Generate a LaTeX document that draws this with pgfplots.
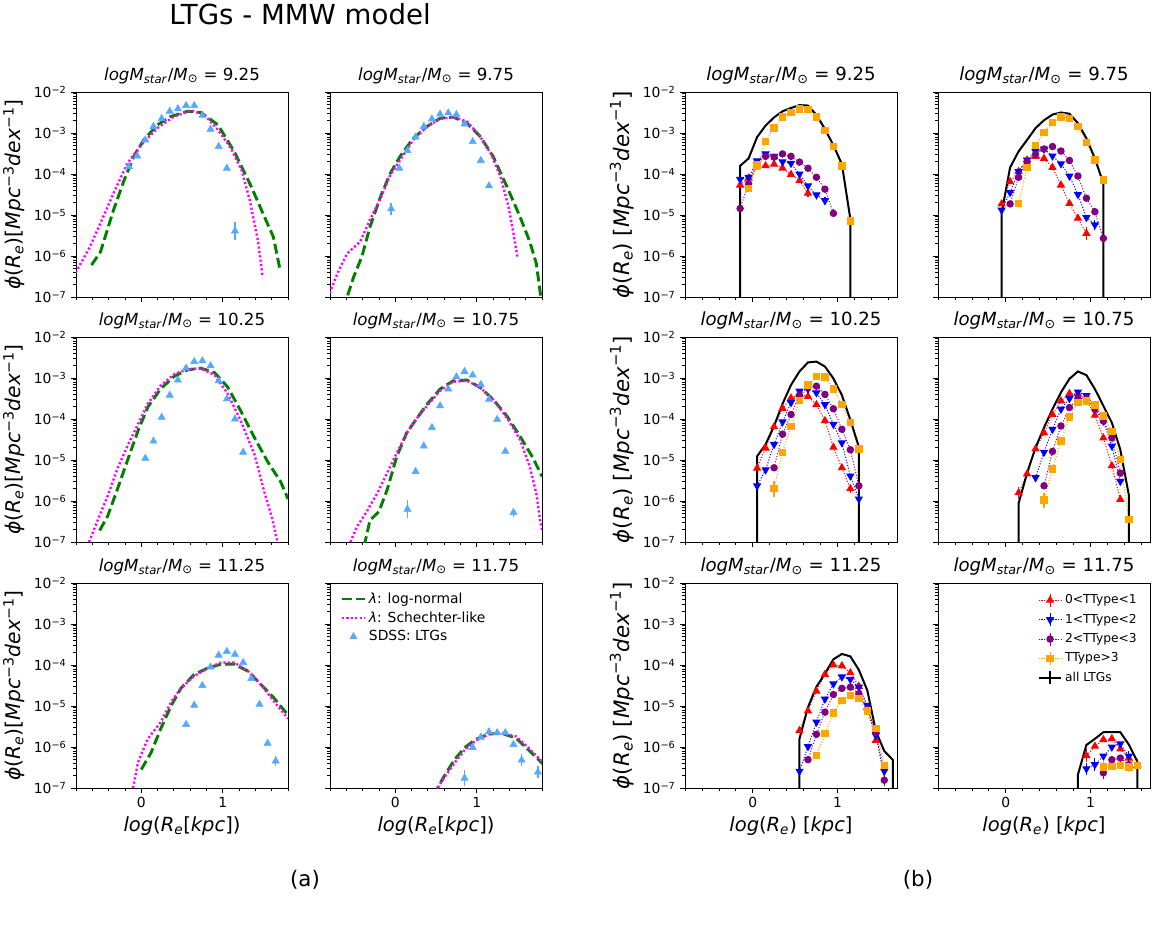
\documentclass[border=0pt]{standalone}
\usepackage{fontspec}
\setmainfont{DejaVu Sans}
\usepackage{pgfplots}
\pgfplotsset{compat=1.18}

\definecolor{mgreen}{HTML}{008000}
\definecolor{mmag}{HTML}{FF00FF}
\definecolor{msdss}{HTML}{55AAFF}
\definecolor{mpurple}{HTML}{800080}
\definecolor{morange}{HTML}{FFA500}

% y values are log10(phi); ticks labelled as powers of ten
\pgfplotsset{
  base/.style={
    scale only axis, width=159pt, height=153.75pt, anchor=south west,
    ymin=-7, ymax=-2,
    ytick={-7,-6,-5,-4,-3,-2},
    yticklabels={10\textsuperscript{−7},10\textsuperscript{−6},10\textsuperscript{−5},10\textsuperscript{−4},10\textsuperscript{−3},10\textsuperscript{−2}},
    minor ytick={-6.699,-6.523,-6.398,-6.301,-6.222,-6.155,-6.097,-6.046,
      -5.699,-5.523,-5.398,-5.301,-5.222,-5.155,-5.097,-5.046,
      -4.699,-4.523,-4.398,-4.301,-4.222,-4.155,-4.097,-4.046,
      -3.699,-3.523,-3.398,-3.301,-3.222,-3.155,-3.097,-3.046,
      -2.699,-2.523,-2.398,-2.301,-2.222,-2.155,-2.097,-2.046},
    xtick={0,1}, xticklabels={0,1},
    tick align=outside, tick pos=left,
    major tick length=3.6pt, minor tick length=2.1pt,
    every tick/.append style={black, line width=0.6pt},
    axis line style={line width=0.6pt},
    tick label style={font=\fontsize{10.4}{12}\selectfont},
  },
  pa/.style={base, xmin=-0.8, xmax=1.8,
    minor xtick={-0.8,-0.6,-0.4,-0.2,0.2,0.4,0.6,0.8,1.2,1.4,1.6,1.8},
    title style={font=\fontsize{12.5}{14}\selectfont, yshift=-3.5pt},
    ylabel style={font=\fontsize{15.2}{17}\selectfont},
    xlabel style={font=\fontsize{14.6}{16}\selectfont}},
  pb/.style={base, xmin=-0.8, xmax=1.7,
    minor xtick={-0.8,-0.6,-0.4,-0.2,0.2,0.4,0.6,0.8,1.2,1.4,1.6},
    title style={font=\fontsize{13.6}{15}\selectfont, yshift=-3.5pt},
    ylabel style={font=\fontsize{16}{18}\selectfont},
    xlabel style={font=\fontsize{14.6}{16}\selectfont}},
  noy/.style={yticklabels={}},
  nox/.style={xticklabels={}},
  lgn/.style={mgreen, line width=2.2pt, dash pattern=on 7.5pt off 3.2pt},
  sch/.style={mmag, line width=1.8pt, dash pattern=on 1.6pt off 1.7pt},
  sdss/.style={msdss, only marks, mark=triangle*, mark size=3.1pt,
    error bars/y dir=both, error bars/y explicit, error bars/error mark=none,
    error bars/error bar style={line width=1pt}},
  tt/.style={line width=0.75pt, dash pattern=on 0.8pt off 1.3pt, mark options={solid},
    error bars/y dir=both, error bars/y explicit, error bars/error mark=none,
    error bars/error bar style={solid, line width=0.9pt}},
  t1/.style={tt, red, mark=triangle*, mark size=2.9pt},
  t2/.style={tt, blue, mark=triangle*, mark size=2.9pt, mark options={solid, rotate=180}},
  t3/.style={tt, mpurple, mark=*, mark size=2.4pt},
  t4/.style={tt, morange, mark=square*, mark size=2.4pt},
  tall/.style={black, line width=1.5pt},
  bleg/.style={legend image code/.code={
    \draw[##1, mark=none, solid] (0.3cm,-0.17cm) -- (0.3cm,0.17cm);
    \draw[mark repeat=2, mark phase=2, ##1] plot coordinates {(0cm,0cm) (0.3cm,0cm) (0.6cm,0cm)};}},
}

\newcommand\ttl[1]{\textit{logM}\textsubscript{\textit{star}}/\textit{M}\textsubscript{⊙} = #1}
\newcommand\ylaba{\textit{ϕ}(\textit{R}\textsubscript{\textit{e}})[\textit{Mpc}\textsuperscript{−3}\textit{dex}\textsuperscript{−1}]}
\newcommand\ylabb{\textit{ϕ}(\textit{R}\textsubscript{\textit{e}}) [\textit{Mpc}\textsuperscript{−3}\textit{dex}\textsuperscript{−1}]}
\newcommand\xlaba{\textit{log}(\textit{R}\textsubscript{\textit{e}}[\textit{kpc}])}
\newcommand\xlabb{\textit{log}(\textit{R}\textsubscript{\textit{e}}) [\textit{kpc}]}

\begin{document}
\begin{tikzpicture}
\useasboundingbox (0,0) rectangle (866.25pt,-697.5pt);

\node[font=\fontsize{20.7}{24}\selectfont] at (225pt,-11pt) {LTGs - MMW model};
\node[font=\fontsize{16}{19}\selectfont] at (228.75pt,-660pt) {(a)};
\node[font=\fontsize{16}{19}\selectfont] at (688.5pt,-660pt) {(b)};

% ---------------- (a) row 1 ----------------
\begin{axis}[pa, nox, at={(57pt,-222.75pt)}, title={\ttl{9.25}}, ylabel={\ylaba}]
\addplot[lgn] coordinates {(-0.61,-6.22) (-0.50,-5.90) (-0.34,-4.88) (-0.21,-4.15) (-0.09,-3.57) (0.03,-3.17) (0.20,-2.80) (0.36,-2.60) (0.57,-2.47) (0.73,-2.50) (0.94,-2.80) (1.14,-3.45) (1.35,-4.31) (1.51,-5.04) (1.62,-5.53) (1.70,-6.31)};
\addplot[sch] coordinates {(-0.85,-6.60) (-0.80,-6.39) (-0.63,-5.78) (-0.50,-5.20) (-0.34,-4.47) (-0.17,-3.74) (0.00,-3.29) (0.20,-2.88) (0.40,-2.60) (0.61,-2.45) (0.77,-2.55) (0.94,-2.92) (1.10,-3.37) (1.23,-3.90) (1.33,-4.63) (1.43,-5.61) (1.49,-6.51)};
\addplot[sdss] coordinates {(-0.15,-3.82) (-0.05,-3.56) (0.05,-3.17) (0.15,-2.84) (0.25,-2.65) (0.35,-2.47) (0.45,-2.41) (0.55,-2.33) (0.65,-2.33) (0.75,-2.57) (0.85,-2.91) (0.95,-3.33) (1.05,-3.86) (1.15,-5.39) +- (0,0.22)};
\end{axis}

\begin{axis}[pa, nox, noy, at={(247.5pt,-222.75pt)}, title={\ttl{9.75}}]
\addplot[lgn] coordinates {(-0.62,-7.30) (-0.59,-7.00) (-0.51,-6.51) (-0.41,-6.02) (-0.31,-5.29) (-0.18,-4.55) (-0.06,-3.98) (0.06,-3.57) (0.22,-3.13) (0.39,-2.84) (0.55,-2.64) (0.71,-2.61) (0.88,-2.76) (1.04,-3.08) (1.20,-3.57) (1.37,-4.31) (1.53,-5.04) (1.65,-5.65) (1.73,-6.18) (1.78,-6.92) (1.80,-7.30)};
\addplot[sch] coordinates {(-0.85,-7.10) (-0.80,-6.88) (-0.71,-6.43) (-0.59,-5.94) (-0.43,-5.65) (-0.31,-5.12) (-0.18,-4.59) (-0.06,-4.02) (0.06,-3.66) (0.22,-3.17) (0.39,-2.84) (0.55,-2.66) (0.71,-2.61) (0.88,-2.72) (1.04,-3.08) (1.18,-3.53) (1.29,-4.06) (1.39,-4.80) (1.45,-5.45) (1.50,-6.04)};
\addplot[sdss] coordinates {(-0.05,-4.85) +- (0,0.15) (0.05,-3.86) (0.15,-3.43) (0.25,-3.10) (0.35,-2.84) (0.45,-2.66) (0.55,-2.54) (0.65,-2.51) (0.75,-2.55) (0.85,-2.78) (0.95,-3.21) (1.05,-3.67) (1.15,-4.29)};
\end{axis}

% ---------------- (a) row 2 ----------------
\begin{axis}[pa, nox, at={(57pt,-406.5pt)}, title={\ttl{10.25}}, ylabel={\ylaba}]
\addplot[lgn] coordinates {(-0.51,-6.72) (-0.41,-6.36) (-0.29,-5.70) (-0.16,-4.96) (-0.04,-4.29) (0.08,-3.71) (0.24,-3.26) (0.41,-2.95) (0.57,-2.80) (0.73,-2.76) (0.90,-2.87) (1.06,-3.22) (1.22,-3.80) (1.39,-4.46) (1.55,-5.04) (1.71,-5.53) (1.80,-5.95)};
\addplot[sch] coordinates {(-0.66,-7.10) (-0.64,-7.00) (-0.53,-6.45) (-0.41,-5.87) (-0.29,-5.20) (-0.16,-4.62) (-0.04,-4.13) (0.08,-3.63) (0.24,-3.18) (0.41,-2.90) (0.57,-2.79) (0.73,-2.76) (0.90,-2.93) (1.06,-3.38) (1.22,-4.04) (1.39,-4.87) (1.51,-5.78) (1.61,-6.45) (1.67,-7.00) (1.68,-7.10)};
\addplot[sdss] coordinates {(0.05,-4.96) (0.15,-4.54) (0.25,-3.96) (0.35,-3.42) (0.45,-3.05) (0.55,-2.76) (0.65,-2.60) (0.75,-2.58) (0.85,-2.70) (0.95,-3.07) (1.05,-3.51) (1.15,-4.00) (1.25,-4.81)};
\end{axis}

\begin{axis}[pa, nox, noy, at={(247.5pt,-406.5pt)}, title={\ttl{10.75}}]
\addplot[lgn] coordinates {(-0.38,-7.10) (-0.37,-7.00) (-0.31,-6.47) (-0.20,-6.26) (-0.10,-5.73) (0.02,-4.91) (0.14,-4.34) (0.27,-3.97) (0.39,-3.64) (0.55,-3.27) (0.71,-3.07) (0.88,-3.05) (1.04,-3.23) (1.20,-3.52) (1.37,-3.93) (1.53,-4.42) (1.69,-4.95) (1.80,-5.40)};
\addplot[sch] coordinates {(-0.57,-7.10) (-0.55,-7.00) (-0.47,-6.63) (-0.35,-6.26) (-0.22,-5.81) (-0.10,-5.32) (0.02,-4.83) (0.14,-4.34) (0.27,-3.97) (0.39,-3.68) (0.55,-3.31) (0.71,-3.09) (0.88,-3.07) (1.04,-3.23) (1.20,-3.52) (1.37,-3.97) (1.53,-4.50) (1.65,-5.16) (1.73,-5.81) (1.78,-6.51) (1.80,-6.70)};
\addplot[sdss] coordinates {(0.15,-6.20) +- (0,0.22) (0.25,-5.28) (0.35,-4.66) (0.45,-4.21) (0.55,-3.68) (0.65,-3.27) (0.75,-2.97) (0.85,-2.84) (0.95,-2.93) (1.05,-3.16) (1.15,-3.52) (1.25,-4.01) (1.35,-4.79) (1.45,-6.28) +- (0,0.12)};
\end{axis}

% ---------------- (a) row 3 ----------------
\begin{axis}[pa, at={(57pt,-591pt)}, title={\ttl{11.25}}, ylabel={\ylaba}, xlabel={\xlaba}]
\addplot[lgn] coordinates {(0.00,-6.55) (0.12,-6.14) (0.24,-5.55) (0.37,-4.98) (0.49,-4.56) (0.65,-4.23) (0.82,-4.07) (0.98,-3.98) (1.14,-3.98) (1.31,-4.15) (1.47,-4.48) (1.63,-4.81) (1.80,-5.22)};
\addplot[sch] coordinates {(-0.12,-7.10) (-0.10,-7.00) (-0.04,-6.38) (0.08,-5.80) (0.24,-5.39) (0.37,-4.89) (0.49,-4.56) (0.65,-4.27) (0.82,-4.07) (0.98,-3.94) (1.14,-3.94) (1.31,-4.15) (1.47,-4.48) (1.63,-4.89) (1.80,-5.31)};
\addplot[sdss] coordinates {(0.55,-5.45) (0.65,-4.98) (0.75,-4.50) (0.85,-4.05) (0.95,-3.76) (1.05,-3.67) (1.15,-3.74) (1.25,-3.94) (1.35,-4.33) (1.45,-4.96) (1.55,-5.91) (1.65,-6.34) +- (0,0.12)};
\end{axis}

\begin{axis}[pa, noy, at={(247.5pt,-591pt)}, title={\ttl{11.75}}, xlabel={\xlaba},
  legend style={draw=none, fill=none, at={(0.03,0.98)}, anchor=north west,
    font=\fontsize{10.4}{12}\selectfont, row sep=0.8pt}, legend cell align=left]
\addlegendimage{lgn}
\addlegendentry{\textit{λ}: log-normal}
\addlegendimage{sch}
\addlegendentry{\textit{λ}: Schechter-like}
\addlegendimage{msdss, only marks, mark=triangle*, mark size=3.1pt}
\addlegendentry{SDSS: LTGs}
\addplot[lgn, forget plot] coordinates {(0.50,-7.20) (0.52,-7.00) (0.60,-6.71) (0.73,-6.30) (0.85,-6.02) (0.98,-5.82) (1.15,-5.68) (1.31,-5.67) (1.48,-5.78) (1.65,-6.10) (1.82,-6.43)};
\addplot[sch, forget plot] coordinates {(0.50,-7.20) (0.52,-7.00) (0.60,-6.75) (0.73,-6.38) (0.85,-6.08) (0.98,-5.85) (1.15,-5.69) (1.31,-5.67) (1.48,-5.74) (1.65,-6.05) (1.82,-6.39)};
\addplot[sdss, forget plot] coordinates {(0.85,-6.76) +- (0,0.2) (0.95,-6.01) (1.05,-5.76) (1.15,-5.63) (1.25,-5.65) (1.35,-5.65) (1.45,-5.94) (1.55,-6.32) +- (0,0.15) (1.75,-6.61) +- (0,0.15)};
\end{axis}

% ---------------- (b) row 1 ----------------
\begin{axis}[pb, nox, at={(513.75pt,-222.75pt)}, title={\ttl{9.25}}, ylabel={\ylabb}]
\addplot[t1] coordinates {(-0.15,-4.27) (-0.05,-4.10) (0.05,-3.83) (0.15,-3.80) (0.25,-3.76) (0.35,-3.86) (0.45,-4.01) (0.55,-4.16) (0.65,-4.47) +- (0,0.1)};
\addplot[t2] coordinates {(-0.15,-4.13) (-0.05,-4.08) (0.05,-3.68) (0.15,-3.51) (0.25,-3.57) (0.35,-3.70) (0.45,-3.74) (0.55,-4.00) (0.65,-4.29) (0.75,-4.51) (0.85,-4.65) +- (0,0.08)};
\addplot[t3] coordinates {(-0.15,-4.84) (-0.05,-4.24) (0.05,-3.76) (0.15,-3.57) (0.25,-3.59) (0.35,-3.51) (0.45,-3.57) (0.55,-3.71) (0.65,-3.86) (0.75,-4.08) (0.85,-4.37) (0.95,-4.96) +- (0,0.1)};
\addplot[t4] coordinates {(-0.05,-4.35) (0.05,-3.78) (0.15,-3.21) (0.25,-2.88) (0.35,-2.61) (0.45,-2.50) (0.55,-2.41) (0.65,-2.42) (0.75,-2.61) (0.85,-2.94) (0.95,-3.33) (1.05,-3.80) (1.15,-5.15)};
\addplot[tall] coordinates {(-0.15,-8) (-0.15,-3.80) (-0.05,-3.62) (0.05,-3.10) (0.15,-2.82) (0.25,-2.62) (0.35,-2.47) (0.45,-2.39) (0.55,-2.32) (0.65,-2.33) (0.75,-2.56) (0.85,-2.90) (0.95,-3.30) (1.05,-3.76) (1.15,-5.10) (1.15,-8)};
\end{axis}

\begin{axis}[pb, nox, noy, at={(703.5pt,-222.75pt)}, title={\ttl{9.75}}]
\addplot[t1] coordinates {(-0.05,-4.73) (0.05,-4.19) (0.15,-3.94) (0.25,-3.66) (0.35,-3.57) (0.45,-3.62) (0.55,-3.84) (0.65,-4.27) (0.75,-4.72) (0.85,-5.08) (0.95,-5.45) +- (0,0.15)};
\addplot[t2] coordinates {(-0.05,-4.88) (0.05,-4.45) (0.15,-3.94) (0.25,-3.66) (0.35,-3.45) (0.45,-3.39) (0.55,-3.56) (0.65,-3.75) (0.75,-4.05) (0.85,-4.50) (0.95,-5.06) (1.05,-5.24) +- (0,0.12)};
\addplot[t3] coordinates {(0.05,-4.73) (0.15,-4.08) (0.25,-3.70) (0.35,-3.52) (0.45,-3.39) (0.55,-3.33) (0.65,-3.44) (0.75,-3.67) (0.85,-4.05) (0.95,-4.59) (1.05,-4.92) (1.15,-5.57)};
\addplot[t4] coordinates {(0.15,-4.72) (0.25,-3.84) (0.35,-3.31) (0.45,-2.99) (0.55,-2.74) (0.65,-2.61) (0.75,-2.64) (0.85,-2.84) (0.95,-3.23) (1.05,-3.66) (1.15,-4.15)};
\addplot[tall] coordinates {(-0.05,-8) (-0.05,-4.96) (0.05,-3.84) (0.15,-3.45) (0.25,-3.17) (0.35,-2.88) (0.45,-2.69) (0.55,-2.55) (0.65,-2.50) (0.75,-2.53) (0.85,-2.76) (0.95,-3.13) (1.05,-3.62) (1.15,-4.23) (1.15,-8)};
\end{axis}

% ---------------- (b) row 2 ----------------
\begin{axis}[pb, nox, at={(513.75pt,-406.5pt)}, title={\ttl{10.25}}, ylabel={\ylabb}]
\addplot[t1] coordinates {(0.05,-5.20) (0.15,-4.71) (0.25,-4.19) (0.35,-3.74) (0.45,-3.49) (0.55,-3.40) (0.65,-3.45) (0.75,-3.65) (0.85,-4.04) (0.95,-4.69) (1.05,-5.19) (1.15,-5.70) +- (0,0.1)};
\addplot[t2] coordinates {(0.05,-5.63) (0.15,-5.24) (0.25,-4.62) (0.35,-4.07) (0.45,-3.60) (0.55,-3.32) (0.65,-3.27) (0.75,-3.36) (0.85,-3.65) (0.95,-4.13) (1.05,-4.58) (1.15,-5.39) (1.25,-5.95)};
\addplot[t3] coordinates {(0.25,-5.19) (0.35,-4.37) (0.45,-3.89) (0.55,-3.42) (0.65,-3.22) (0.75,-3.20) (0.85,-3.40) (0.95,-3.75) (1.05,-4.25) (1.15,-4.75) (1.25,-5.63)};
\addplot[t4] coordinates {(0.25,-5.70) +- (0,0.2) (0.35,-4.81) (0.45,-4.19) (0.55,-3.55) (0.65,-3.17) (0.75,-2.97) (0.85,-2.98) (0.95,-3.27) (1.05,-3.65) (1.15,-4.09) (1.25,-4.73)};
\addplot[tall] coordinates {(0.05,-8) (0.05,-4.91) (0.15,-4.62) (0.25,-4.17) (0.35,-3.63) (0.45,-3.17) (0.55,-2.84) (0.65,-2.62) (0.75,-2.60) (0.85,-2.72) (0.95,-3.01) (1.05,-3.42) (1.15,-4.02) (1.25,-4.68) (1.25,-8)};
\end{axis}

\begin{axis}[pb, nox, noy, at={(703.5pt,-406.5pt)}, title={\ttl{10.75}}]
\addplot[t1] coordinates {(0.15,-5.80) +- (0,0.15) (0.25,-5.34) (0.35,-4.73) (0.45,-4.34) (0.55,-3.89) (0.65,-3.56) (0.75,-3.38) (0.85,-3.39) (0.95,-3.53) (1.05,-3.91) (1.15,-4.46) (1.25,-5.14) (1.35,-5.96)};
\addplot[t2] coordinates {(0.35,-5.43) (0.45,-4.81) (0.55,-4.25) (0.65,-3.76) (0.75,-3.50) (0.85,-3.34) (0.95,-3.43) (1.05,-3.68) (1.15,-4.05) (1.25,-4.66) (1.35,-5.52)};
\addplot[t3] coordinates {(0.45,-5.63) (0.55,-4.79) (0.65,-4.17) (0.75,-3.72) (0.85,-3.50) (0.95,-3.50) (1.05,-3.76) (1.15,-4.05) (1.25,-4.46) (1.35,-5.32)};
\addplot[t4] coordinates {(0.45,-5.98) +- (0,0.18) (0.55,-5.22) (0.65,-4.54) (0.75,-3.95) (0.85,-3.60) (0.95,-3.56) (1.05,-3.66) (1.15,-3.93) (1.25,-4.30) (1.35,-4.99) (1.45,-6.45)};
\addplot[tall] coordinates {(0.15,-8) (0.15,-6.06) (0.25,-5.32) (0.35,-4.70) (0.45,-4.21) (0.55,-3.76) (0.65,-3.35) (0.75,-3.02) (0.85,-2.84) (0.95,-2.93) (1.05,-3.27) (1.15,-3.68) (1.25,-4.09) (1.35,-4.75) (1.45,-5.85) (1.45,-8)};
\end{axis}

% ---------------- (b) row 3 ----------------
\begin{axis}[pb, at={(513.75pt,-591pt)}, title={\ttl{11.25}}, ylabel={\ylabb}, xlabel={\xlabb}]
\addplot[t1] coordinates {(0.55,-5.60) (0.65,-5.12) (0.75,-4.64) (0.85,-4.23) (0.95,-4.00) (1.05,-4.02) (1.15,-4.19) (1.25,-4.52) (1.35,-5.04) (1.45,-5.84)};
\addplot[t2] coordinates {(0.55,-6.59) (0.65,-5.99) (0.75,-5.39) (0.85,-4.83) (0.95,-4.46) (1.05,-4.29) (1.15,-4.35) (1.25,-4.54) (1.35,-4.98) (1.45,-5.72) (1.55,-6.59)};
\addplot[t3] coordinates {(0.65,-6.31) (0.75,-5.69) (0.85,-5.15) (0.95,-4.72) (1.05,-4.57) (1.15,-4.54) (1.25,-4.70) (1.35,-5.07) (1.45,-5.65) (1.55,-6.81) +- (0,0.15)};
\addplot[t4] coordinates {(0.75,-6.21) (0.85,-5.67) (0.95,-5.17) (1.05,-4.86) (1.15,-4.74) (1.25,-4.81) (1.35,-5.12) (1.45,-5.55) (1.55,-6.45)};
\addplot[tall] coordinates {(0.55,-8) (0.55,-5.80) (0.65,-5.03) (0.75,-4.53) (0.85,-4.21) (0.95,-3.86) (1.05,-3.73) (1.15,-3.79) (1.25,-4.12) (1.35,-4.62) (1.45,-5.61) (1.55,-6.10) (1.65,-6.31) (1.65,-8)};
\end{axis}

\begin{axis}[pb, noy, at={(703.5pt,-591pt)}, title={\ttl{11.75}}, xlabel={\xlabb}, bleg,
  legend style={draw=none, fill=none, at={(0.97,0.97)}, anchor=north east,
    font=\fontsize{9.2}{11}\selectfont, row sep=2.2pt}, legend cell align=left]
\addlegendimage{red, mark=triangle*, mark size=2.9pt, line width=0.75pt, dash pattern=on 0.8pt off 1.3pt, mark options={solid}}
\addlegendentry{0<TType<1}
\addlegendimage{blue, mark=triangle*, mark size=2.9pt, line width=0.75pt, dash pattern=on 0.8pt off 1.3pt, mark options={solid, rotate=180}}
\addlegendentry{1<TType<2}
\addlegendimage{mpurple, mark=*, mark size=2.4pt, line width=0.75pt, dash pattern=on 0.8pt off 1.3pt, mark options={solid}}
\addlegendentry{2<TType<3}
\addlegendimage{morange, mark=square*, mark size=2.4pt, line width=0.75pt, dash pattern=on 0.8pt off 1.3pt, mark options={solid}}
\addlegendentry{TType>3}
\addlegendimage{black, line width=1.5pt}
\addlegendentry{all LTGs}
\addplot[t1, forget plot] coordinates {(0.95,-6.21) +- (0,0.15) (1.05,-5.98) (1.15,-5.82) (1.25,-5.80) (1.35,-6.05) (1.45,-6.27) (1.55,-6.45) +- (0,0.15)};
\addplot[t2, forget plot] coordinates {(0.95,-6.53) +- (0,0.15) (1.05,-6.43) +- (0,0.15) (1.15,-6.22) (1.25,-6.00) (1.35,-5.92) (1.45,-6.22) +- (0,0.12)};
\addplot[t3, forget plot] coordinates {(1.15,-6.63) +- (0,0.15) (1.25,-6.31) (1.35,-6.27) (1.45,-6.43)};
\addplot[t4, forget plot] coordinates {(1.15,-6.49) +- (0,0.15) (1.25,-6.47) (1.35,-6.45) (1.45,-6.49) +- (0,0.12) (1.55,-6.45)};
\addplot[tall, forget plot] coordinates {(0.85,-8) (0.85,-6.67) (0.95,-5.95) (1.05,-5.80) (1.15,-5.64) (1.25,-5.64) (1.35,-5.64) (1.45,-5.94) (1.55,-6.35) (1.55,-8)};
\end{axis}
\end{tikzpicture}
\end{document}
